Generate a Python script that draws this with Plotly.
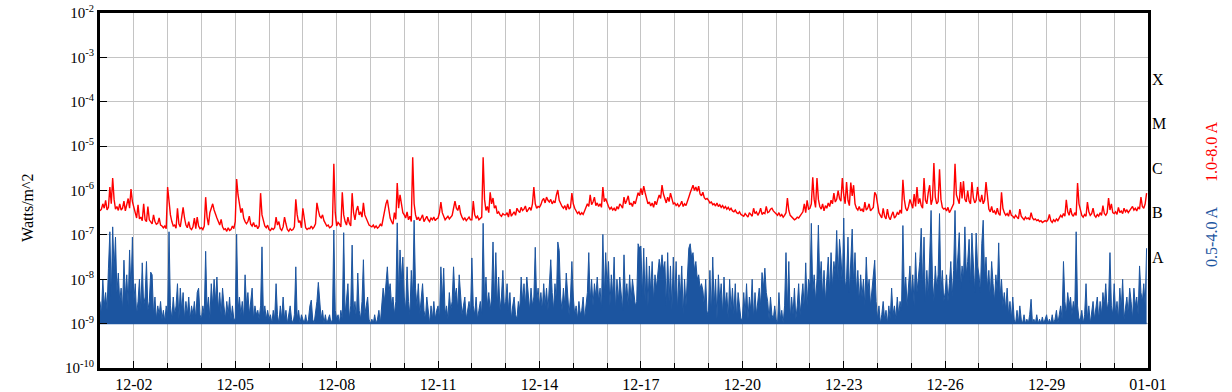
import pandas as pd
import plotly.graph_objects as go

# ---------------- data (log10 of flux, W/m^2), hourly from 12-01 00:00 ----------------
start_time = "2017-12-01 00:00"

red_log10 = [
    -6.46, -6.42, -6.30, -6.40, -6.22, -6.44, -6.38, -5.92, -6.30, -5.72, -6.20, -6.42, -6.36, -6.45, -6.30, -6.44, -6.40, -6.24, -6.46, -6.35, -6.18, -6.40, -5.97, -6.25,
    -6.40, -6.55, -6.62, -6.32, -6.64, -6.60, -6.68, -6.30, -6.66, -6.70, -6.36, -6.66, -6.72, -6.75, -6.55, -6.70, -6.76, -6.74, -6.62, -6.78, -6.80, -6.84, -6.80, -6.86,
    -5.92, -6.30, -6.55, -6.70, -6.80, -6.78, -6.85, -6.40, -6.75, -6.82, -6.60, -6.38, -6.62, -6.78, -6.84, -6.70, -6.85, -6.88, -6.82, -6.62, -6.86, -6.60, -6.80, -6.86,
    -6.84, -6.88, -6.80, -6.15, -6.60, -6.78, -6.50, -6.42, -6.30, -6.44, -6.55, -6.62, -6.70, -6.78, -6.65, -6.82, -6.88, -6.86, -6.92, -6.84, -6.90, -6.88, -6.80, -6.86,
    -6.70, -5.74, -6.10, -6.35, -6.50, -6.40, -6.62, -6.70, -6.75, -6.70, -6.58, -6.76, -6.80, -6.72, -6.82, -6.78, -6.86, -6.80, -6.06, -6.55, -6.72, -6.80, -6.84, -6.78,
    -6.88, -6.90, -6.85, -6.88, -6.84, -6.60, -6.78, -6.70, -6.86, -6.90, -6.82, -6.60, -6.75, -6.88, -6.92, -6.86, -6.90, -6.88, -6.82, -6.20, -6.55, -6.72, -6.68, -6.84,
    -6.40, -6.70, -6.84, -6.88, -6.85, -6.86, -6.80, -6.86, -6.82, -6.75, -6.28, -6.45, -6.58, -6.62, -6.55, -6.68, -6.75, -6.80, -6.78, -6.84, -6.82, -6.78, -5.40, -6.50,
    -6.80, -6.72, -6.76, -6.82, -6.04, -6.55, -6.70, -6.78, -6.60, -6.74, -6.80, -6.06, -6.50, -6.66, -6.45, -6.35, -6.55, -6.48, -6.60, -6.28, -6.55, -6.62, -6.70, -6.78,
    -6.80, -6.82, -6.78, -6.84, -6.80, -6.85, -6.82, -6.76, -6.80, -6.60, -6.42, -6.30, -6.21, -6.45, -6.62, -6.70, -6.76, -6.50, -6.65, -5.83, -6.40, -6.10, -6.35, -6.50,
    -6.55, -6.62, -6.48, -6.66, -6.58, -6.70, -5.25, -6.30, -6.55, -6.66, -6.60, -6.68, -6.62, -6.55, -6.70, -6.64, -6.58, -6.66, -6.70, -6.62, -6.66, -6.60, -6.68, -6.64,
    -6.62, -6.50, -6.26, -6.50, -6.60, -6.66, -6.62, -6.58, -6.64, -6.60, -6.56, -6.40, -6.24, -6.40, -6.45, -6.33, -6.52, -6.60, -6.66, -6.62, -6.68, -6.64, -6.60, -6.66,
    -6.66, -6.24, -6.55, -6.62, -6.58, -6.66, -6.62, -6.60, -5.25, -6.20, -6.45, -6.36, -6.50, -6.04, -6.30, -6.17, -6.40, -6.34, -6.52, -6.48, -6.55, -6.58, -6.52, -6.55,
    -6.55, -6.50, -6.60, -6.42, -6.58, -6.52, -6.48, -6.56, -6.40, -6.46, -6.50, -6.38, -6.45, -6.42, -6.35, -6.48, -6.44, -6.38, -6.45, -6.30, -5.92, -6.30, -6.40, -6.36,
    -6.38, -6.32, -6.22, -6.18, -6.28, -6.15, -6.22, -6.26, -6.20, -6.30, -6.24, -6.28, -6.10, -5.99, -6.22, -6.30, -6.36, -6.40, -6.34, -6.44, -6.30, -6.42, -6.38, -6.06,
    -6.30, -6.40, -6.45, -6.52, -6.48, -6.55, -6.50, -6.54, -6.46, -6.38, -6.30, -6.36, -6.10, -6.32, -6.26, -6.15, -6.34, -6.28, -6.36, -6.30, -6.38, -5.92, -6.25, -6.18,
    -6.28, -6.36, -6.42, -6.38, -6.44, -6.40, -6.46, -6.36, -6.42, -6.30, -6.34, -6.40, -6.15, -6.30, -6.22, -6.12, -6.32, -6.28, -6.36, -6.24, -6.30, -6.18, -6.05, -6.12,
    -5.95, -6.10, -5.90, -6.05, -6.22, -6.30, -6.26, -6.35, -6.28, -6.38, -6.24, -6.32, -6.20, -6.10, -6.18, -5.88, -6.08, -6.20, -6.28, -6.15, -6.25, -6.06, -6.22, -6.30,
    -6.28, -6.34, -6.30, -6.36, -6.32, -6.24, -6.36, -6.30, -6.34, -6.26, -6.15, -6.05, -5.95, -5.88, -6.00, -5.92, -6.02, -5.90, -6.08, -6.12, -6.04, -6.16, -6.20, -6.18,
    -6.22, -6.28, -6.26, -6.32, -6.30, -6.35, -6.28, -6.36, -6.32, -6.38, -6.34, -6.40, -6.36, -6.42, -6.38, -6.44, -6.40, -6.46, -6.48, -6.44, -6.50, -6.52, -6.48, -6.54,
    -6.56, -6.58, -6.52, -6.56, -6.60, -6.50, -6.54, -6.58, -6.40, -6.52, -6.48, -6.56, -6.50, -6.40, -6.54, -6.50, -6.52, -6.36, -6.50, -6.48, -6.42, -6.40, -6.46, -6.50,
    -6.52, -6.56, -6.50, -6.58, -6.54, -6.60, -6.56, -6.50, -6.17, -6.45, -6.56, -6.60, -6.62, -6.66, -6.64, -6.60, -6.62, -6.58, -6.52, -6.48, -6.30, -6.50, -6.22, -6.42,
    -6.40, -6.30, -5.70, -6.20, -6.38, -5.72, -6.20, -6.36, -6.42, -6.30, -6.46, -6.34, -6.40, -6.28, -6.36, -6.22, -6.30, -6.06, -6.26, -6.20, -6.00, -6.18, -6.24, -5.72,
    -6.10, -6.30, -5.81, -6.22, -6.34, -5.82, -6.12, -5.88, -6.30, -6.40, -6.44, -6.36, -6.46, -6.42, -6.48, -6.26, -6.44, -6.40, -6.30, -6.46, -6.42, -6.38, -6.04, -6.10,
    -6.30, -6.50, -6.56, -6.62, -6.40, -6.58, -6.64, -6.42, -6.60, -6.66, -6.56, -6.48, -6.62, -6.58, -6.50, -6.54, -6.44, -6.52, -5.76, -6.20, -6.40, -6.46, -6.36, -6.20,
    -6.30, -6.40, -6.08, -6.36, -5.92, -6.30, -6.18, -6.34, -6.40, -5.72, -6.22, -6.30, -6.05, -5.88, -6.32, -6.20, -5.38, -6.15, -6.30, -6.25, -5.52, -6.20, -6.38, -6.42,
    -6.40, -6.46, -6.38, -6.50, -6.44, -6.36, -6.30, -5.40, -6.10, -6.20, -6.30, -5.81, -6.18, -5.79, -6.20, -6.26, -6.00, -6.24, -6.30, -5.81, -6.16, -6.28, -6.22, -5.92,
    -6.20, -6.26, -6.10, -6.30, -6.22, -5.81, -6.20, -6.42, -6.48, -6.36, -6.50, -6.46, -6.54, -6.40, -6.52, -6.56, -6.04, -6.40, -6.50, -6.56, -6.52, -6.58, -6.44, -6.56,
    -6.58, -6.62, -6.56, -6.60, -6.64, -6.42, -6.58, -6.62, -6.66, -6.60, -6.64, -6.62, -6.66, -6.50, -6.62, -6.66, -6.64, -6.68, -6.66, -6.70, -6.68, -6.72, -6.70, -6.68,
    -6.70, -6.66, -6.54, -6.68, -6.72, -6.66, -6.70, -6.64, -6.68, -6.62, -6.56, -6.60, -6.52, -6.58, -6.21, -6.48, -6.56, -6.40, -6.54, -6.58, -6.50, -6.56, -5.83, -6.30,
    -6.46, -6.56, -6.60, -6.54, -6.58, -6.26, -6.48, -6.56, -6.52, -6.40, -6.56, -6.60, -6.54, -6.58, -6.50, -6.56, -6.34, -6.52, -6.56, -6.50, -6.17, -6.44, -6.30, -6.50,
    -6.52, -6.48, -6.54, -6.38, -6.50, -6.46, -6.52, -6.40, -6.48, -6.44, -6.50, -6.46, -6.42, -6.36, -6.44, -6.40, -6.46, -6.38, -6.42, -6.15, -6.36, -6.40, -6.30, -6.06,
]

blue_log10 = [
    -8.5, -8.8, -8.0, -8.6, -8.3, -8.7, -7.75, -6.93, -8.4, -6.82, -7.8, -7.05, -8.3, -7.86, -8.5, -8.2, -8.7, -7.57, -8.4, -7.9, -8.6, -7.34, -8.3, -7.05,
    -8.5, -8.1, -8.8, -8.5, -8.0, -8.7, -7.63, -8.6, -8.4, -7.6, -8.7, -8.5, -7.84, -7.9, -8.8, -8.4, -8.9, -8.6, -8.8, -8.5, -8.9, -8.7, -8.95, -8.6,
    -8.8, -6.93, -8.6, -8.9, -8.4, -8.8, -8.6, -8.1, -8.9, -8.2, -8.7, -8.3, -8.9, -8.5, -8.8, -8.4, -8.9, -8.6, -8.8, -8.5, -8.9, -8.3, -8.2, -8.8,
    -8.9, -8.6, -8.8, -7.37, -8.7, -8.4, -8.9, -8.1, -8.6, -8.0, -8.5, -7.95, -8.7, -8.3, -8.8, -8.2, -8.6, -8.9, -8.5, -8.8, -8.4, -8.9, -8.6, -8.9,
    -8.9, -6.98, -8.7, -8.4, -8.8, -8.5, -8.9, -7.9, -8.6, -8.3, -8.8, -8.5, -8.2, -8.9, -8.6, -8.8, -8.7, -8.9, -8.6, -7.27, -8.8, -8.6, -8.9, -8.7,
    -8.9, -8.8, -9.0, -8.7, -8.9, -8.1, -8.8, -9.0, -8.6, -8.9, -8.4, -8.9, -8.7, -9.0, -8.8, -8.6, -8.9, -9.0, -8.8, -7.72, -8.9, -8.7, -9.0, -8.8,
    -8.9, -9.0, -8.8, -9.0, -8.9, -8.6, -8.47, -8.9, -9.0, -8.8, -8.5, -8.07, -8.6, -8.9, -8.7, -9.0, -8.8, -9.0, -8.9, -8.8, -9.0, -8.9, -6.89, -8.7,
    -8.9, -8.8, -9.0, -8.7, -8.9, -6.95, -8.8, -8.4, -8.1, -8.9, -8.6, -7.23, -8.8, -8.5, -8.9, -7.86, -8.7, -8.9, -8.5, -7.56, -8.8, -8.6, -8.4, -8.9,
    -9.0, -8.9, -9.0, -8.8, -9.0, -8.9, -8.7, -9.0, -8.6, -8.2, -8.5, -8.05, -7.72, -8.3, -8.1, -8.6, -8.4, -8.8, -8.5, -6.73, -8.4, -7.34, -8.0, -7.5,
    -8.4, -8.7, -7.72, -8.5, -8.8, -7.8, -8.4, -6.67, -8.2, -8.6, -8.1, -8.8, -8.5, -8.1, -8.7, -8.9, -8.4, -8.8, -9.0, -8.6, -8.9, -8.5, -8.9, -8.7,
    -8.6, -8.9, -7.72, -8.5, -7.75, -8.8, -8.6, -8.9, -8.3, -8.7, -8.5, -7.72, -8.4, -8.2, -8.7, -7.9, -8.5, -8.8, -8.6, -8.4, -8.9, -8.7, -8.5, -8.8,
    -7.52, -8.6, -8.8, -8.4, -8.9, -8.7, -8.5, -8.8, -6.74, -8.5, -7.95, -8.6, -8.3, -8.7, -8.4, -7.16, -8.5, -7.4, -8.6, -7.95, -8.7, -8.4, -7.8, -8.6,
    -8.5, -8.1, -8.7, -8.3, -8.9, -8.6, -8.4, -8.8, -8.9, -8.5, -8.7, -7.95, -8.5, -8.1, -8.6, -7.95, -8.4, -8.7, -8.2, -8.6, -8.4, -7.28, -8.5, -8.2,
    -8.6, -8.3, -8.7, -8.1, -8.6, -8.2, -8.7, -8.0, -7.56, -8.3, -8.7, -8.1, -8.5, -7.16, -7.35, -8.4, -8.7, -8.2, -8.6, -7.86, -8.5, -8.8, -8.4, -7.6,
    -8.4, -8.8, -8.6, -8.9, -8.5, -8.8, -8.7, -8.4, -8.9, -8.6, -8.3, -7.4, -8.5, -8.0, -8.6, -8.1, -8.4, -7.95, -8.5, -8.2, -8.7, -6.99, -8.4, -7.4,
    -8.2, -7.6, -8.6, -7.9, -8.4, -7.5, -8.7, -8.0, -8.5, -7.95, -8.3, -8.7, -7.45, -8.4, -8.1, -8.6, -7.9, -8.5, -8.0, -8.3, -8.6, -8.5, -7.2, -7.3,
    -7.25, -8.4, -7.3, -8.5, -7.5, -8.6, -7.7, -8.3, -7.6, -8.5, -7.9, -8.2, -7.8, -7.55, -7.8, -7.45, -7.8, -7.6, -8.6, -7.4, -8.5, -7.7, -8.7, -7.5,
    -8.5, -7.6, -8.7, -7.9, -8.4, -7.7, -8.8, -8.0, -8.6, -7.8, -7.3, -7.2, -7.5, -7.4, -7.8, -7.6, -8.0, -7.9, -8.2, -8.1, -8.25, -8.6, -8.0, -8.8,
    -8.7, -7.8, -8.8, -7.5, -8.6, -8.0, -8.9, -7.9, -8.5, -8.1, -8.8, -7.95, -8.6, -8.3, -8.9, -8.0, -8.7, -8.2, -8.8, -8.1, -8.9, -8.3, -8.6, -8.9,
    -8.9, -8.3, -8.8, -8.1, -8.9, -8.4, -8.7, -8.0, -8.9, -8.3, -8.8, -8.5, -8.2, -8.6, -7.85, -8.2, -7.75, -8.3, -8.5, -8.9, -8.4, -8.8, -8.9, -8.6,
    -8.9, -9.0, -8.3, -8.9, -8.7, -9.0, -8.6, -7.4, -8.7, -7.6, -8.9, -8.4, -8.8, -8.2, -8.9, -8.6, -8.1, -8.8, -8.5, -8.1, -8.7, -7.63, -8.6, -8.0,
    -8.2, -6.74, -8.3, -7.9, -8.5, -8.0, -6.78, -8.1, -7.6, -8.4, -7.8, -8.5, -8.0, -7.5, -8.3, -7.4, -8.2, -7.6, -7.9, -6.9, -8.0, -7.1, -7.5, -8.1,
    -6.62, -8.2, -8.0, -7.05, -8.3, -7.6, -6.87, -8.1, -7.4, -8.3, -7.8, -8.5, -7.9, -8.4, -8.0, -8.6, -7.5, -8.3, -8.0, -8.6, -8.2, -7.9, -7.57, -8.5,
    -8.9, -8.6, -9.0, -8.8, -8.5, -8.9, -8.7, -9.0, -8.6, -8.9, -8.2, -8.8, -8.6, -8.9, -8.4, -8.8, -8.5, -8.7, -6.79, -8.3, -7.95, -8.6, -8.0, -7.7,
    -8.4, -7.9, -8.6, -7.4, -8.3, -8.0, -7.6, -6.85, -8.2, -7.05, -8.5, -7.8, -8.4, -7.5, -6.45, -8.0, -8.5, -7.7, -8.2, -7.9, -6.52, -8.3, -7.8, -8.5,
    -8.3, -7.9, -8.5, -8.1, -7.6, -8.4, -7.8, -6.45, -8.0, -7.5, -6.95, -8.2, -7.7, -8.0, -6.82, -7.9, -7.6, -7.1, -8.1, -6.96, -7.8, -8.3, -6.96, -7.7,
    -7.9, -8.3, -7.2, -6.67, -8.0, -7.5, -8.2, -7.8, -8.4, -7.6, -8.1, -8.5, -7.9, -8.3, -7.18, -8.4, -8.0, -8.6, -8.3, -8.7, -8.2, -8.8, -8.5, -8.9,
    -8.4, -8.9, -9.0, -8.7, -9.0, -8.6, -8.9, -9.0, -8.8, -9.0, -8.9, -9.0, -8.8, -8.45, -9.0, -8.9, -9.0, -8.8, -9.0, -8.9, -9.0, -8.85, -9.0, -8.9,
    -8.8, -9.0, -8.9, -9.0, -8.8, -9.0, -8.9, -8.7, -9.0, -8.8, -8.6, -8.9, -7.6, -8.5, -8.8, -8.3, -8.6, -8.4, -8.8, -8.5, -8.7, -6.93, -8.6, -8.9,
    -8.9, -8.7, -9.0, -8.8, -8.1, -8.9, -8.6, -9.0, -8.8, -8.5, -8.9, -8.7, -8.4, -8.9, -8.5, -8.8, -8.3, -8.6, -8.1, -8.7, -8.5, -7.4, -8.6, -8.8,
    -8.1, -8.8, -8.5, -8.9, -8.2, -8.7, -8.0, -8.9, -8.6, -8.4, -8.8, -8.2, -8.5, -8.9, -8.2, -8.6, -8.4, -8.8, -7.7, -8.3, -8.5, -8.1, -8.6, -7.3,
]

blue_floor_log10 = -9.0

x_tick_dates = ["2017-12-02", "2017-12-05", "2017-12-08", "2017-12-11", "2017-12-14", "2017-12-17",
                "2017-12-20", "2017-12-23", "2017-12-26", "2017-12-29", "2018-01-01"]
x_tick_labels = ["12-02", "12-05", "12-08", "12-11", "12-14", "12-17",
                 "12-20", "12-23", "12-26", "12-29", "01-01"]

y_decades = [-10, -9, -8, -7, -6, -5, -4, -3, -2]

class_labels = ["X", "M", "C", "B", "A"]
class_log10 = [-3.5, -4.5, -5.5, -6.5, -7.5]

red_name = "1.0-8.0 A"
blue_name = "0.5-4.0 A"

# ---------------- figure ----------------
RED = "#ff0000"
BLUE = "#1c55a0"
GRID = "#c4c4c4"
SERIF = "Liberation Serif, Times New Roman, DejaVu Serif, serif"

red_x = pd.date_range(start_time, periods=len(red_log10), freq="h")
blue_x = pd.date_range(start_time, periods=len(blue_log10), freq="h")
red_y = [10 ** v for v in red_log10]
blue_y = [10 ** v for v in blue_log10]
floor_y = [10 ** blue_floor_log10] * len(blue_x)

fig = go.Figure()
fig.add_trace(go.Scatter(x=blue_x, y=floor_y, mode="lines",
                         line=dict(color=BLUE, width=1.5), showlegend=False,
                         hoverinfo="skip"))
fig.add_trace(go.Scatter(x=blue_x, y=blue_y, mode="lines", name=blue_name,
                         line=dict(color=BLUE, width=1), fill="tonexty",
                         fillcolor=BLUE, showlegend=False))
fig.add_trace(go.Scatter(x=red_x, y=red_y, mode="lines", name=red_name,
                         line=dict(color=RED, width=1.4), showlegend=False))

annotations = []
for lab, lv in zip(class_labels, class_log10):
    annotations.append(dict(x=1, xref="paper", y=lv, yref="y", text=lab,
                            xanchor="left", yanchor="middle", xshift=2, showarrow=False,
                            font=dict(family=SERIF, size=16, color="black")))
annotations.append(dict(x=-0.0687, xref="paper", y=0.451, yref="paper", text="Watts/m^2",
                        textangle=-90, xanchor="center", yanchor="middle", showarrow=False,
                        font=dict(family=SERIF, size=16, color="black")))
annotations.append(dict(x=1.060, xref="paper", y=0.608, yref="paper", text=red_name,
                        textangle=-90, xanchor="center", yanchor="middle", showarrow=False,
                        font=dict(family=SERIF, size=16, color=RED)))
annotations.append(dict(x=1.060, xref="paper", y=0.369, yref="paper", text=blue_name,
                        textangle=-90, xanchor="center", yanchor="middle", showarrow=False,
                        font=dict(family=SERIF, size=16, color=BLUE)))

fig.update_layout(
    width=1232, height=392,
    margin=dict(l=100, r=84, t=13, b=24, autoexpand=False),
    paper_bgcolor="white", plot_bgcolor="white",
    showlegend=False,
    font=dict(family=SERIF, size=16, color="black"),
    annotations=annotations,
    xaxis=dict(
        type="date", range=["2017-12-01", "2018-01-01"],
        tickvals=x_tick_dates, ticktext=x_tick_labels,
        ticks="inside", ticklen=7, tickcolor="black", tickwidth=1,
        showgrid=True, gridcolor=GRID, gridwidth=1,
        minor=dict(dtick=86400000, tick0="2017-12-01", showgrid=True, gridcolor=GRID,
                   gridwidth=1, ticks="inside", ticklen=5, tickcolor="black"),
        showline=True, linecolor="black", linewidth=3, mirror=True,
        tickfont=dict(family=SERIF, size=16, color="black"),
        zeroline=False, automargin=False,
    ),
    yaxis=dict(
        type="log", range=[-10, -2],
        tickvals=[10 ** d for d in y_decades],
        ticktext=["10<sup>%d</sup>" % d for d in y_decades],
        ticks="inside", ticklen=7, tickcolor="black", tickwidth=1,
        showgrid=True, gridcolor=GRID, gridwidth=1,
        showline=True, linecolor="black", linewidth=3, mirror=True,
        tickfont=dict(family=SERIF, size=15, color="black"),
        zeroline=False, automargin=False,
    ),
)

fig.write_html("out.html", config={"displayModeBar": False},
               post_script="document.body.style.margin='0px';document.body.style.overflow='hidden';")
